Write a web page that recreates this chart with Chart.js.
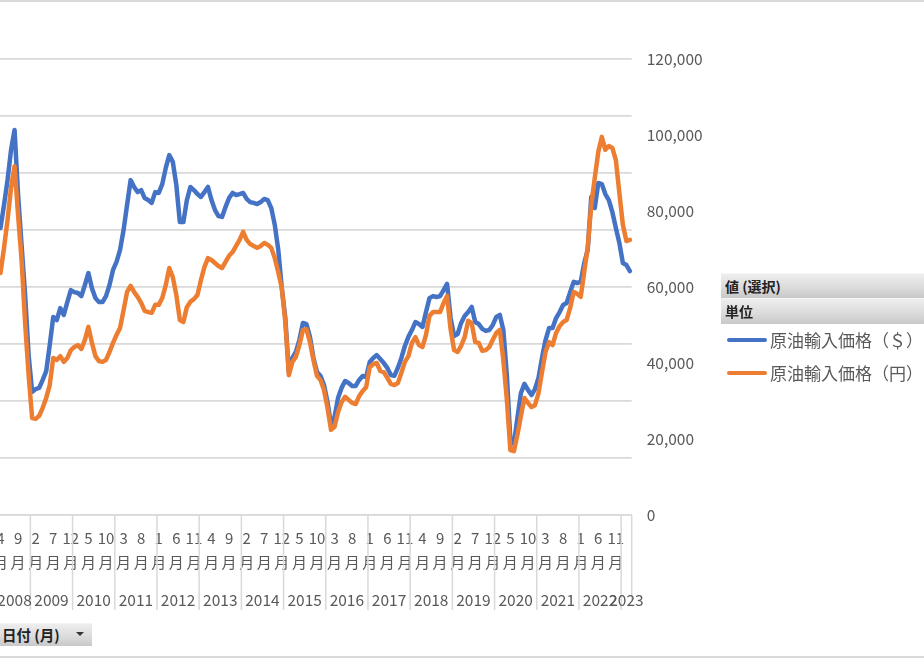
<!DOCTYPE html>
<html>
<head>
<meta charset="utf-8">
<script src="https://cdn.jsdelivr.net/npm/chart.js@4.4.0/dist/chart.umd.min.js"></script>
<style>
  body { margin: 0; width: 924px; height: 660px; overflow: hidden; background: #fff; position: relative;
         font-family: "Noto Sans CJK JP", "Noto Sans", sans-serif; }
  #wrap { position: absolute; left: -2px; top: 0; width: 926px; height: 660px; }
  .edge { position: absolute; left: 0; width: 924px; height: 2px; background: #d9d9d9; }
  .fbtn { position: absolute; box-sizing: border-box; padding-left: 4px; font-weight: bold; color: #222;
          background: linear-gradient(to bottom, #eeeeee 0%, #dcdcdc 55%, #c8c8c8 100%);
          border-top: 1px solid #f4f4f4; }
  .leg { position: absolute; left: 727px; width: 40px; height: 4px; border-radius: 2px; }
  .legtxt { position: absolute; left: 770px; font-size: 17px; color: #595959; line-height: 20px; white-space: nowrap; }
  .tri { position: absolute; left: 76px; top: 632px; width: 0; height: 0;
         border-left: 4px solid transparent; border-right: 4px solid transparent; border-top: 4px solid #333; }
</style>
</head>
<body>
<div id="wrap"><canvas id="chart" width="926" height="660"></canvas></div>
<div class="edge" style="top:0"></div>
<div class="edge" style="top:656px"></div>
<div class="fbtn" style="left:721px;top:273px;width:210px;height:25px;font-size:14px;line-height:24px;">値 (選択)</div>
<div class="fbtn" style="left:721px;top:298px;width:210px;height:26px;font-size:14px;line-height:25px;">単位</div>
<div class="leg" style="top:338px;background:#4472C4"></div>
<div class="legtxt" style="top:330px">原油輸入価格（＄）</div>
<div class="leg" style="top:371px;background:#ED7D31"></div>
<div class="legtxt" style="top:363px">原油輸入価格（円）</div>
<div class="fbtn" style="left:-2px;top:623px;width:94px;height:23px;font-size:14.5px;line-height:22px;">日付 (月)</div>
<div class="tri"></div>
<script>
// monthly categories: Apr 2008 .. Mar 2023
const startYear = 2008;
const startMonth = 4;
const monthCount = 180;
const years = [2008, 2009, 2010, 2011, 2012, 2013, 2014, 2015, 2016, 2017, 2018, 2019, 2020, 2021, 2022, 2023];

// 原油輸入価格（＄） $/bbl, left axis
const dollarPrice = [
  100.7, 108.8, 117.5, 128.1, 135.1, 112.3, 94.7, 77.2, 56.1,
  43.2, 44.2, 44.6, 47.4, 50.5, 59.6, 69.5, 68.4, 72.6, 70.2, 74.7, 78.9,
  78.2, 77.9, 76.8, 80.7, 84.9, 79.6, 76.1, 74.7, 74.7, 76.8, 80.7, 86.0,
  88.8, 93.0, 100.0, 108.8, 117.5, 115.1, 113.3, 114.0, 111.2, 110.5, 109.5, 113.3,
  113.0, 116.1, 121.8, 126.3, 123.9, 115.8, 102.8, 102.8, 110.5, 115.1, 114.0, 112.6,
  111.6, 113.3, 115.1, 110.5, 107.0, 104.9, 104.6, 108.1, 111.2, 113.0, 112.3, 112.6,
  113.0, 110.9, 109.8, 109.5, 109.1, 109.8, 110.9, 110.5, 107.7, 101.8, 93.0, 79.6,
  69.1, 50.2, 55.1, 57.2, 61.4, 67.4, 67.0, 62.5, 55.1, 50.2, 48.8, 45.6,
  39.6, 31.6, 34.4, 41.1, 44.6, 47.0, 46.3, 45.3, 45.3, 47.4, 48.8, 48.4,
  53.7, 55.1, 56.1, 54.7, 53.3, 51.6, 49.1, 48.8, 51.6, 55.1, 59.3, 62.5,
  64.9, 67.7, 67.0, 66.0, 71.2, 76.1, 76.8, 76.5, 76.8, 78.9, 81.1, 69.1,
  62.8, 63.5, 67.4, 69.8, 71.2, 73.0, 67.7, 67.0, 65.3, 64.6, 64.9, 66.7,
  69.5, 70.2, 64.9, 49.1, 26.3, 24.9, 34.0, 42.8, 46.0, 43.9, 42.1, 44.2,
  48.1, 55.1, 61.4, 65.6, 65.6, 69.1, 71.2, 73.7, 74.4, 78.2, 81.8, 81.4,
  81.8, 88.4, 93.0, 111.6, 107.7, 116.5, 116.1, 112.6, 110.5, 106.3, 100.7, 95.4,
  88.4, 87.7, 85.6
];

// 原油輸入価格（円） yen/kl, right axis
const yenPrice = [
  63700, 70300, 77600, 86100, 91800, 78900, 67100, 50500, 36800,
  25500, 25300, 26100, 28200, 30800, 34200, 41300, 40800, 41800, 40300, 41300, 43400,
  44200, 44700, 43700, 46100, 49500, 45300, 41800, 40500, 40300, 40800, 42900, 45300,
  47400, 49200, 53900, 58700, 60300, 58700, 57400, 55800, 53700, 53400, 53200, 55300,
  55300, 57100, 60500, 65000, 62600, 57900, 51300, 50800, 54700, 56100, 56800, 57900,
  61800, 65300, 67600, 67100, 66300, 65500, 65000, 66600, 68200, 69200, 70800, 72400,
  74500, 72400, 71300, 70800, 70300, 70800, 71600, 71100, 70300, 67600, 63900, 59700,
  50800, 36800, 40300, 41600, 44700, 48700, 48900, 45500, 40800, 36600, 35500, 32900,
  28200, 22400, 23200, 27100, 29700, 31100, 30300, 29500, 29200, 31300, 32600, 33700,
  38900, 39700, 40000, 37900, 37600, 36100, 34500, 34200, 34700, 37400, 40300, 41800,
  45300, 46800, 44700, 44200, 47400, 52400, 53400, 53400, 53400, 55800, 57600, 48900,
  43400, 42900, 44500, 46800, 51100, 50500, 45500, 45300, 43200, 43400, 44200, 46100,
  47900, 48700, 40800, 30300, 17100, 16800, 21100, 26100, 30800, 29500, 28400, 28900,
  32100, 37600, 42900, 45500, 44700, 47900, 49700, 50800, 51300, 54500, 58700, 58200,
  57400, 63900, 70500, 81600, 88700, 95500, 99500, 96100, 97100, 96600, 93400, 84700,
  76300, 72100, 72400
];

const FONT = '"Noto Sans CJK JP", "Noto Sans", sans-serif';
const GREY = '#595959';
// where the plot area sits in the page (its left part is cut off)
const plotLeft = -1.3;
const plotRight = 631.6;

const categories = [];
const monthOf = [];
const yearOf = [];
for (let i = 0; i < monthCount; i++) {
  const n = startMonth - 1 + i;
  const y = startYear + Math.floor(n / 12);
  const m = (n % 12) + 1;
  categories.push(y + '/' + m);
  monthOf.push(m);
  yearOf.push(y);
}

// year row + separators under the month labels
const yearAxis = {
  id: 'yearAxis',
  afterDraw(chart) {
    const x = chart.scales.x;
    const ctx = chart.ctx;
    const half = (x.getPixelForValue(1) - x.getPixelForValue(0)) / 2;
    const top = chart.chartArea.bottom;
    ctx.save();
    ctx.strokeStyle = '#d9d9d9';
    ctx.lineWidth = 1.5;
    ctx.fillStyle = GREY;
    ctx.font = '15.5px ' + FONT;
    ctx.textAlign = 'center';
    ctx.textBaseline = 'middle';
    years.forEach(yr => {
      const first = yearOf.indexOf(yr);
      const last = yearOf.lastIndexOf(yr);
      const l = x.getPixelForValue(first) - half;
      const r = x.getPixelForValue(last) + half;
      ctx.beginPath();
      ctx.moveTo(r, top);
      ctx.lineTo(r, top + (last === monthCount - 1 ? 85 : 95));
      ctx.stroke();
      ctx.fillText(String(yr), (l + r) / 2, top + 85);
    });
    ctx.restore();
  }
};

const chart = new Chart(document.getElementById('chart').getContext('2d'), {
  type: 'line',
  data: {
    labels: categories,
    datasets: [
      {
        label: '原油輸入価格（＄）',
        data: dollarPrice,
        yAxisID: 'y',
        borderColor: '#4472C4',
        borderWidth: 4.5,
        order: 2
      },
      {
        label: '原油輸入価格（円）',
        data: yenPrice,
        yAxisID: 'y1',
        borderColor: '#ED7D31',
        borderWidth: 4.5,
        order: 1
      }
    ]
  },
  options: {
    responsive: false,
    animation: false,
    devicePixelRatio: 1,
    layout: { autoPadding: false, padding: { left: 0, right: 212.4, top: 59, bottom: 50 } },
    elements: {
      point: { radius: 0 },
      line: { tension: 0, borderJoinStyle: 'round', borderCapStyle: 'round' }
    },
    plugins: { legend: { display: false }, tooltip: { enabled: false } },
    scales: {
      x: {
        offset: true,
        grid: { display: false, drawTicks: false },
        border: { display: true, color: '#d9d9d9', width: 1.5 },
        ticks: {
          autoSkip: false,
          maxRotation: 0,
          minRotation: 0,
          padding: 11,
          color: GREY,
          font: { size: 15, family: FONT, lineHeight: 1.6 },
          callback: (v, i) => (i % 5 === 0 ? [String(monthOf[i]), '月'] : null)
        },
        afterFit: s => { s.height = 95; }
      },
      y: {
        position: 'left',
        min: 0,
        max: 160,
        ticks: { stepSize: 20, display: false },
        grid: { color: '#d9d9d9', lineWidth: 1.8, drawTicks: false },
        border: { display: false },
        afterFit: s => { s.width = 0; }
      },
      y1: {
        position: 'right',
        min: 0,
        max: 120000,
        ticks: {
          stepSize: 20000,
          padding: 15,
          color: GREY,
          font: { size: 15.5, family: FONT },
          callback: v => v.toLocaleString('en-US')
        },
        grid: { display: false, drawTicks: false },
        border: { display: false },
        afterFit: s => { s.width = 80; }
      }
    }
  },
  plugins: [yearAxis]
});

// fit the plot area width, then slide the canvas so the plot starts where the reference's does
let area = chart.chartArea;
chart.options.layout.padding.right += (area.right - area.left) - (plotRight - plotLeft);
chart.update();
area = chart.chartArea;
document.getElementById('wrap').style.left = (plotLeft - area.left) + 'px';
</script>
</body>
</html>
